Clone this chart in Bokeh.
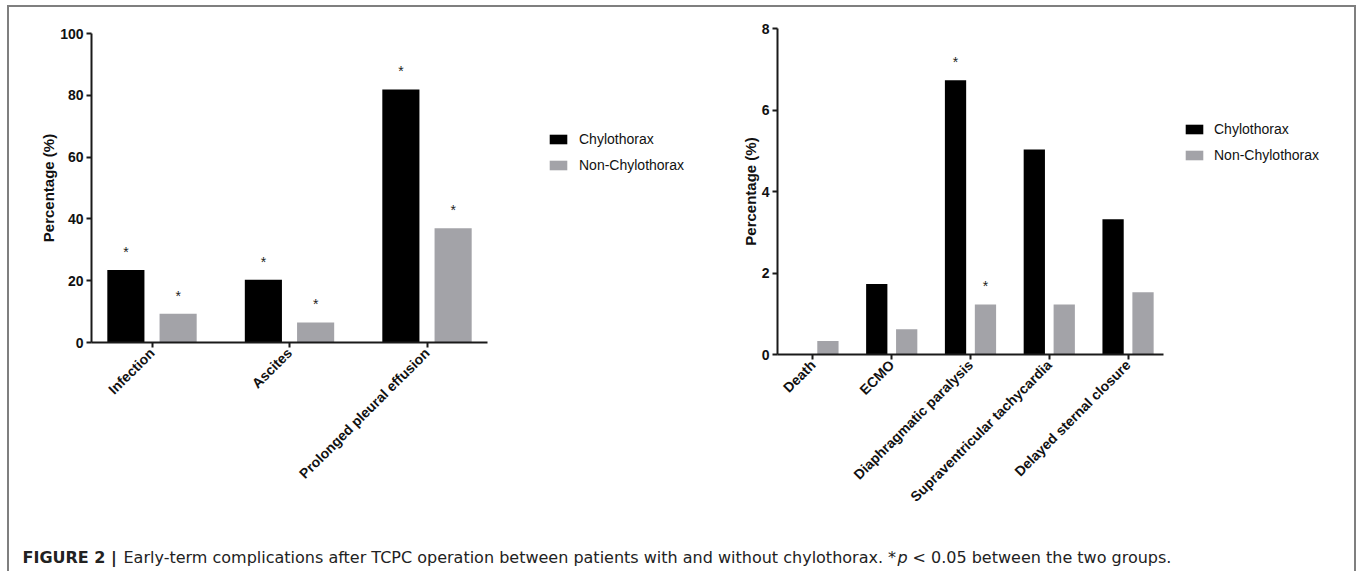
import math
from bokeh.plotting import figure
from bokeh.models import (ColumnDataSource, Range1d, FixedTicker, Label, Legend, LegendItem)
from bokeh.layouts import row, column
from bokeh.embed import file_html
from bokeh.resources import INLINE
from bokeh.core.properties import value
from bokeh.transform import dodge

# ---------------- data ----------------
left_categories = ["Infection", "Ascites", "Prolonged pleural effusion"]
left_chylothorax = [23.5, 20.3, 81.9]
left_non_chylothorax = [9.3, 6.5, 37.0]
left_sig_chylothorax = [True, True, True]
left_sig_non_chylothorax = [True, True, True]
left_yticks = [0, 20, 40, 60, 80, 100]

right_categories = ["Death", "ECMO", "Diaphragmatic paralysis",
                    "Supraventricular tachycardia", "Delayed sternal closure"]
right_chylothorax = [0.0, 1.73, 6.73, 5.03, 3.32]
right_non_chylothorax = [0.33, 0.62, 1.23, 1.23, 1.53]
right_sig_chylothorax = [False, False, True, False, False]
right_sig_non_chylothorax = [False, False, True, False, False]
right_yticks = [0, 2, 4, 6, 8]

series_names = ["Chylothorax", "Non-Chylothorax"]
series_colors = ["#000000", "#a3a3a8"]
y_label = "Percentage (%)"
caption_bold = "FIGURE 2 |"
caption_text = "Early-term complications after TCPC operation between patients with and without chylothorax. *"
caption_italic = "p"
caption_tail = "< 0.05 between the two groups."

FONT = "Liberation Sans"
OFF = 0.19
BW = 0.27
ROW_H = 506


def make_chart(cats, chylo, non, sig_c, sig_n, yticks, width,
               mb_left, mb_right, mb_top, mb_bottom, xpad):
    n = len(cats)
    p = figure(width=width, height=ROW_H,
               x_range=Range1d(-xpad, n - 1 + xpad),
               y_range=Range1d(yticks[0], yticks[-1]),
               output_backend="svg", toolbar_location=None,
               min_border_left=mb_left, min_border_right=mb_right,
               min_border_top=mb_top, min_border_bottom=mb_bottom,
               background_fill_color="white", border_fill_color="white")
    p.frame_align = False
    p.outline_line_color = None
    p.grid.grid_line_color = None

    src = ColumnDataSource(dict(x=list(range(n)), chylo=chylo, non=non))
    p.vbar(x=dodge("x", -OFF), top="chylo", width=BW, source=src,
           fill_color=series_colors[0], line_color=None)
    p.vbar(x=dodge("x", OFF), top="non", width=BW, source=src,
           fill_color=series_colors[1], line_color=None)

    sx = [i for i in range(n) if sig_c[i]]
    sy = [chylo[i] for i in range(n) if sig_c[i]]
    nx = [i for i in range(n) if sig_n[i]]
    ny = [non[i] for i in range(n) if sig_n[i]]
    s1 = ColumnDataSource(dict(x=sx, y=sy, t=["*"] * len(sx)))
    s2 = ColumnDataSource(dict(x=nx, y=ny, t=["*"] * len(nx)))
    for s, d in ((s1, -OFF), (s2, OFF)):
        p.text(x=dodge("x", d), y="y", text="t", source=s,
               text_align="center", text_baseline="alphabetic", y_offset=-18,
               text_font=value(FONT), text_font_size="14px", text_color="#222222")

    xa = p.xaxis[0]
    xa.ticker = FixedTicker(ticks=list(range(n)))
    xa.major_label_overrides = {i: c for i, c in enumerate(cats)}
    xa.major_label_orientation = math.pi / 4
    xa.minor_tick_line_color = None
    xa.major_tick_in = 0
    xa.major_tick_out = 5
    xa.major_label_standoff = 3
    xa.major_label_text_font = FONT
    xa.major_label_text_font_style = "bold"
    xa.major_label_text_font_size = "14px"
    xa.major_label_text_color = "#111111"

    ya = p.yaxis[0]
    ya.ticker = FixedTicker(ticks=yticks)
    ya.minor_tick_line_color = None
    ya.major_tick_in = 0
    ya.major_tick_out = 5
    ya.major_label_standoff = 3
    ya.major_label_text_font = FONT
    ya.major_label_text_font_style = "bold"
    ya.major_label_text_font_size = "14px"
    ya.major_label_text_color = "#111111"
    ya.axis_label = y_label
    ya.axis_label_standoff = 0
    ya.axis_label_text_font = FONT
    ya.axis_label_text_font_style = "bold"
    ya.axis_label_text_font_size = "15px"
    ya.axis_label_text_color = "#111111"

    for ax in (xa, ya):
        ax.axis_line_width = 2
        ax.axis_line_color = "#1a1a1a"
        ax.major_tick_line_width = 2
        ax.major_tick_line_color = "#1a1a1a"
    return p, src


def make_legend_panel(src, width, left, top, standoff):
    f = figure(width=width, height=ROW_H, x_range=Range1d(0, 1), y_range=Range1d(0, 1),
               output_backend="svg", toolbar_location=None,
               min_border_left=left, min_border_top=top,
               min_border_right=0, min_border_bottom=0,
               x_axis_type=None, y_axis_type=None,
               background_fill_color="white", border_fill_color="white")
    f.frame_align = False
    f.outline_line_color = None
    f.grid.grid_line_color = None
    rs = [f.vbar(x="x", top=col, width=BW, source=src, fill_color=c,
                 line_color=None, visible=False)
          for col, c in zip(["chylo", "non"], series_colors)]
    legend = Legend(items=[LegendItem(label=nm, renderers=[r])
                           for nm, r in zip(series_names, rs)],
                    location="top_left", glyph_width=22, glyph_height=12,
                    label_standoff=standoff, spacing=6, padding=0, margin=0,
                    label_height=20, border_line_color=None,
                    background_fill_alpha=0, inactive_fill_alpha=0,
                    label_text_font=FONT, label_text_font_size="14px",
                    label_text_color="#111111")
    f.add_layout(legend, "center")
    return f


p1, src1 = make_chart(left_categories, left_chylothorax, left_non_chylothorax,
                      left_sig_chylothorax, left_sig_non_chylothorax, left_yticks,
                      width=488, mb_left=82, mb_right=10, mb_top=26, mb_bottom=171,
                      xpad=0.44)
leg1 = make_legend_panel(src1, 203, 50, 122, 10)

p2, src2 = make_chart(right_categories, right_chylothorax, right_non_chylothorax,
                      right_sig_chylothorax, right_sig_non_chylothorax, right_yticks,
                      width=473, mb_left=77, mb_right=10, mb_top=21, mb_bottom=159,
                      xpad=0.45)
leg2 = make_legend_panel(src2, 181, 10, 112, 9)

CW, CH = 1345, 58
cap = figure(width=CW, height=CH, x_range=Range1d(0, CW), y_range=Range1d(0, CH),
             output_backend="svg", toolbar_location=None, min_border=0,
             x_axis_type=None, y_axis_type=None,
             background_fill_color="white", border_fill_color="white")
cap.frame_align = False
cap.outline_line_color = None
cap.grid.grid_line_color = None
base_y = 14
cap.add_layout(Label(x=13, y=base_y, text=caption_bold, text_font="DejaVu Sans",
                     text_font_style="bold", text_font_size="16px",
                     text_color="#222222", text_baseline="alphabetic"))
cap.add_layout(Label(x=114, y=base_y, text=caption_text, text_font="DejaVu Sans",
                     text_font_size="16px", text_color="#222222",
                     text_baseline="alphabetic"))
cap.add_layout(Label(x=888, y=base_y, text=caption_italic, text_font="DejaVu Sans",
                     text_font_style="italic", text_font_size="16px",
                     text_color="#222222", text_baseline="alphabetic"))
cap.add_layout(Label(x=903, y=base_y, text=caption_tail, text_font="DejaVu Sans",
                     text_font_size="16px", text_color="#222222",
                     text_baseline="alphabetic"))

layout = column(row(p1, leg1, p2, leg2), cap,
                styles={"margin-left": "7px", "margin-top": "5px",
                        "border-top": "2px solid #7f7f7f",
                        "border-left": "2px solid #7f7f7f",
                        "border-right": "2px solid #7f7f7f"})

open("out.html", "w").write(file_html(layout, INLINE))
